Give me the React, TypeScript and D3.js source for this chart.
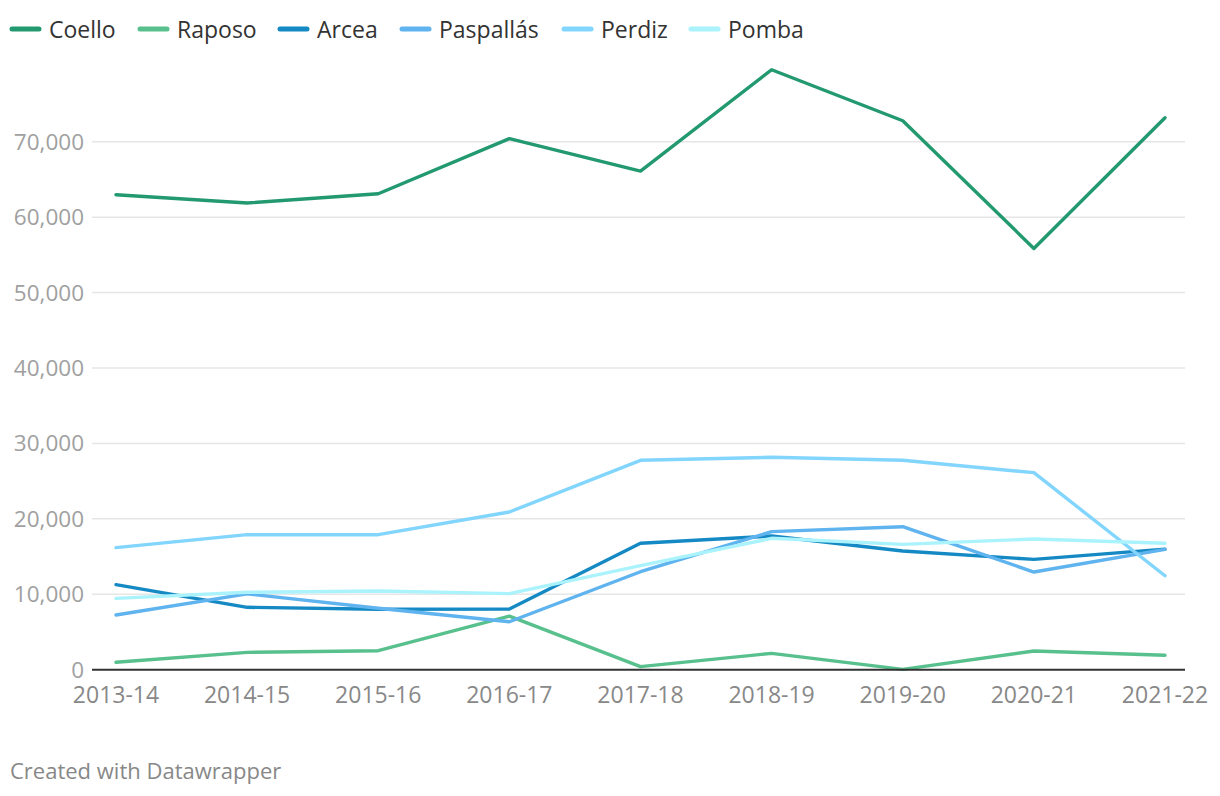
import React from "react";
import * as d3 from "d3";

const seasons = ["2013-14", "2014-15", "2015-16", "2016-17", "2017-18", "2018-19", "2019-20", "2020-21", "2021-22"];
const coello = [62970, 61870, 63100, 70400, 66110, 79540, 72780, 55850, 73180];
const raposo = [980, 2300, 2520, 7100, 400, 2170, 50, 2480, 1920];
const arcea = [11270, 8270, 8010, 8050, 16760, 17720, 15740, 14630, 15980];
const paspallas = [7250, 10050, 8140, 6360, 12990, 18300, 18960, 12950, 15950];
const perdiz = [16180, 17900, 17900, 20910, 27760, 28160, 27760, 26120, 12460];
const pomba = [9460, 10260, 10430, 10080, 13790, 17420, 16620, 17330, 16760];
const yTicks = [0, 10000, 20000, 30000, 40000, 50000, 60000, 70000];

const seriesNames = ["Coello", "Raposo", "Arcea", "Paspallás", "Perdiz", "Pomba"];
const seriesValues = [coello, raposo, arcea, paspallas, perdiz, pomba];
const seriesColors = ["#239970", "#58c08d", "#1589c3", "#5fb3ee", "#82d5fd", "#aaf3fc"];

// legend layout (text start x of each item)
const legendTextX = [49, 177, 317, 439, 601, 728];

const W = 1220;
const H = 796;
const FONT = "'Open Sans', sans-serif";

export default function App() {
  const x = d3.scalePoint<string>().domain(seasons).range([116, 1165]);
  const y = d3.scaleLinear().domain([0, 70000]).range([669.7, 141.7]);
  const line = d3
    .line<number>()
    .x((_, i) => x(seasons[i])!)
    .y((d) => y(d));
  const fmt = d3.format(",");

  return (
    <svg width={W} height={H} style={{ position: "absolute", left: 0, top: 0, background: "#fff" }} fontFamily={FONT}>
      {seriesNames.map((name, i) => {
        const tx = legendTextX[i];
        return (
          <g key={name}>
            <line x1={tx - 37} x2={tx - 10} y1={29} y2={29} stroke={seriesColors[i]} strokeWidth={5} strokeLinecap="round" />
            <text x={tx} y={37.5} fontSize={23} fill="#333">
              {name}
            </text>
          </g>
        );
      })}
      {yTicks.map((t) => (
        <g key={t}>
          {t > 0 && <line x1={92} x2={1185} y1={y(t)} y2={y(t)} stroke="#e6e6e6" strokeWidth={1.5} />}
          <text x={84} y={y(t) + 8} textAnchor="end" fontSize={22.5} fill="#a0a0a0">
            {fmt(t)}
          </text>
        </g>
      ))}
      {seriesValues.map((vals, i) => (
        <path key={seriesNames[i]} d={line(vals)!} fill="none" stroke={seriesColors[i]} strokeWidth={3.4} strokeLinejoin="round" strokeLinecap="round" />
      ))}
      <line x1={92} x2={1185} y1={y(0)} y2={y(0)} stroke="#333" strokeWidth={2} />
      {seasons.map((s) => (
        <text key={s} x={x(s)} y={703} textAnchor="middle" fontSize={23} fill="#888">
          {s}
        </text>
      ))}
      <text x={10} y={779} fontSize={22} fill="#888">
        Created with Datawrapper
      </text>
    </svg>
  );
}
